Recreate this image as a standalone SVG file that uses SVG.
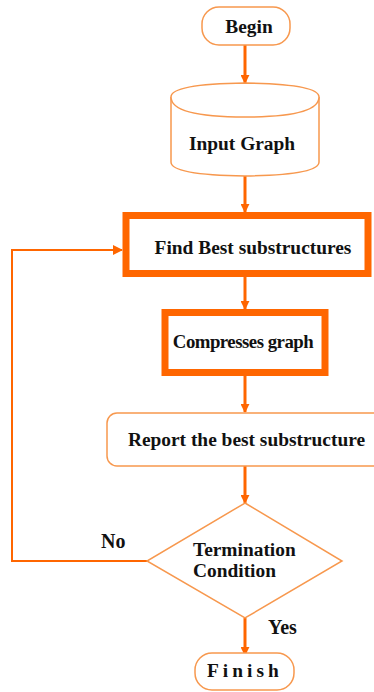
<svg xmlns="http://www.w3.org/2000/svg" width="374" height="692" viewBox="0 0 374 692">
  <style>
    .lbl { font-family: "Liberation Serif", "Times New Roman", serif; font-weight: bold; fill: #111; font-size: 19.4px; }
    .thin { fill: #fff; stroke: #F7984E; stroke-width: 1.5; }
    .thick { fill: #fff; stroke: #FF6600; stroke-width: 7; }
    .flow { fill: none; stroke: #FF6600; stroke-width: 3; }
    .loop { fill: none; stroke: #FF6600; stroke-width: 2; }
  </style>
  <defs>
    <marker id="head" viewBox="0 0 10 10" refX="9" refY="5" markerWidth="3" markerHeight="3" orient="auto" markerUnits="strokeWidth">
      <path d="M0,0 L10,5 L0,10 Z" fill="#FF6600"/>
    </marker>
    <marker id="headLoop" viewBox="0 0 10 10" refX="9" refY="5" markerWidth="5" markerHeight="5" orient="auto" markerUnits="strokeWidth">
      <path d="M0,0 L10,5 L0,10 Z" fill="#FF6600"/>
    </marker>
  </defs>

  <!-- connectors -->
  <g id="connectors">
    <line class="flow" x1="245" y1="45" x2="245" y2="83" marker-end="url(#head)"/>
    <line class="flow" x1="245" y1="175" x2="245" y2="212" marker-end="url(#head)"/>
    <line class="flow" x1="245" y1="277" x2="245" y2="309" marker-end="url(#head)"/>
    <line class="flow" x1="245" y1="376" x2="245" y2="412" marker-end="url(#head)"/>
    <line class="flow" x1="245" y1="466" x2="245" y2="503" marker-end="url(#head)"/>
    <line class="flow" x1="245" y1="618" x2="245" y2="655" marker-end="url(#head)"/>
    <polyline class="loop" points="147,561 12,561 12,250 122,250" marker-end="url(#headLoop)"/>
    <text class="lbl" x="101" y="548" style="font-size:20px">No</text>
    <text class="lbl" x="268" y="634" style="font-size:20px">Yes</text>
  </g>

  <g id="begin">
    <rect class="thin" x="202" y="7" width="88" height="38" rx="17"/>
    <text class="lbl" x="249" y="33" text-anchor="middle">Begin</text>
  </g>

  <g id="input-graph">
    <path class="thin" d="M171,97 Q171,84 245,83 Q319,84 319,97 L319,162 Q319,175 245,176 Q171,175 171,162 Z"/>
    <path class="thin" fill="none" d="M171,97 Q171,117 245,117 Q319,117 319,97"/>
    <text class="lbl" x="242" y="150" text-anchor="middle">Input Graph</text>
  </g>

  <g id="find-best">
    <rect class="thick" x="126" y="215.5" width="242" height="58"/>
    <text class="lbl" x="253" y="254" text-anchor="middle">Find Best substructures</text>
  </g>

  <g id="compress">
    <rect class="thick" x="165" y="312.5" width="160" height="60"/>
    <text class="lbl" x="243" y="348" text-anchor="middle" style="font-size:18.8px" letter-spacing="-0.5">Compresses graph</text>
  </g>

  <g id="report">
    <rect class="thin" x="107" y="413" width="280" height="53" rx="10"/>
    <text class="lbl" x="246.5" y="446" text-anchor="middle">Report the best substructure</text>
  </g>

  <g id="termination">
    <polygon class="thin" points="245,503 342,561 245,618 147,561"/>
    <text class="lbl" x="193" y="556">Termination</text>
    <text class="lbl" x="193" y="577">Condition</text>
  </g>

  <g id="finish">
    <rect class="thin" x="195" y="653" width="99" height="37" rx="17"/>
    <text class="lbl" x="207" y="677" letter-spacing="4">Finish</text>
  </g>
</svg>
